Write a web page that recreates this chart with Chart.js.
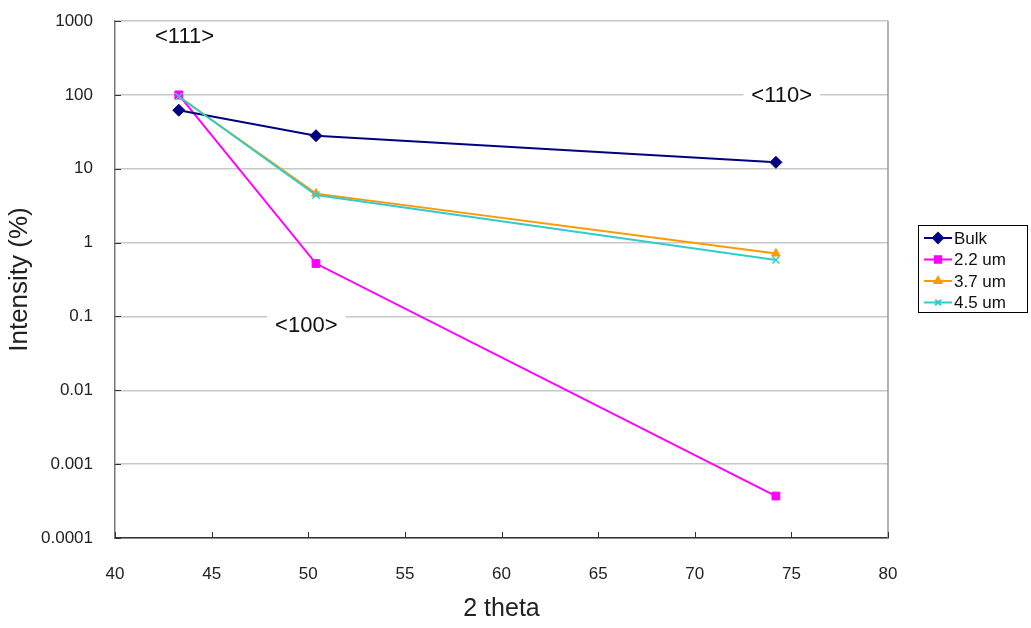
<!DOCTYPE html>
<html>
<head>
<meta charset="utf-8">
<script src="https://cdn.jsdelivr.net/npm/chart.js@4"></script>
<style>
  body { margin: 0; background: #fff; }
  #wrap { width: 1031px; height: 628px; }
</style>
</head>
<body>
<div id="wrap"><canvas id="graphe"></canvas></div>
<script>
const angles = [43.3, 50.4, 74.2];
const bulk = [62, 28, 12.2];
const film22 = [100, 0.52, 0.00037];
const film37 = [95, 4.6, 0.71];
const film45 = [95, 4.4, 0.58];
const seriesNames = ["Bulk", "2.2 um", "3.7 um", "4.5 um"];
const yTicks = [0.0001, 0.001, 0.01, 0.1, 1, 10, 100, 1000];
const xTicks = [40, 45, 50, 55, 60, 65, 70, 75, 80];
const orientations = [
    { text: "<111>", x: 43.6, y: 600 },
    { text: "<110>", x: 74.5, y: 97 },
    { text: "<100>", x: 49.9, y: 0.075 },
];

function points(vals) {
    return vals.map((v, i) => ({ x: angles[i], y: v }));
}

const couleurs = ["#000080", "#FF00FF", "#FF9900", "#33CCCC"];
const formes = ["rectRot", "rect", "triangle", "crossRot"];
const tailles = [6, 5.5, 5, 5];
const valeurs = [bulk, film22, film37, film45];
const police = "'Liberation Sans', Arial, sans-serif";
const HAUT = 21;

const datasets = valeurs.map((v, i) => ({
    label: seriesNames[i],
    data: points(v),
    borderColor: couleurs[i],
    backgroundColor: couleurs[i],
    borderWidth: 2,
    pointStyle: formes[i],
    pointRadius: tailles[i],
    pointBorderWidth: formes[i] === "crossRot" ? 1.5 : 1,
    order: i === 3 ? 0 : i + 1,
}));

// force le haut de la zone de trace
const haut = {
    id: "haut",
    afterLayout(chart) {
        try {
            const a = chart.chartArea;
            const y = chart.scales.y;
            a.top = HAUT;
            a.height = a.bottom - HAUT;
            y.top = HAUT;
            y.height = y.bottom - HAUT;
            y.configure();
        } catch (e) {
            console.log(e);
        }
    },
};

// annotations, bordure, ticks internes et legende
const decor = {
    id: "decor",
    afterDraw(chart) {
        const ctx = chart.ctx;
        const a = chart.chartArea;
        const sx = chart.scales.x, sy = chart.scales.y;
        ctx.save();
        // bordure droite
        ctx.strokeStyle = "#999";
        ctx.lineWidth = 1.5;
        ctx.beginPath();
        ctx.moveTo(a.right, a.top);
        ctx.lineTo(a.right, a.bottom);
        ctx.stroke();
        // ticks internes
        ctx.strokeStyle = "#333";
        ctx.lineWidth = 1;
        xTicks.forEach(t => {
            const px = Math.round(sx.getPixelForValue(t)) + 0.5;
            ctx.beginPath();
            ctx.moveTo(px, a.bottom);
            ctx.lineTo(px, a.bottom - 6);
            ctx.stroke();
        });
        yTicks.forEach(t => {
            const py = Math.round(sy.getPixelForValue(t)) + 0.5;
            ctx.beginPath();
            ctx.moveTo(a.left, py);
            ctx.lineTo(a.left + 6, py);
            ctx.stroke();
        });
        // annotations
        ctx.font = "22px " + police;
        ctx.textAlign = "center";
        ctx.textBaseline = "middle";
        orientations.forEach(o => {
            const px = sx.getPixelForValue(o.x);
            const py = sy.getPixelForValue(o.y);
            const w = ctx.measureText(o.text).width;
            ctx.fillStyle = "#fff";
            ctx.fillRect(px - w / 2 - 8, py - 13, w + 16, 26);
            ctx.fillStyle = "#111";
            ctx.fillText(o.text, px, py);
        });
        // legende
        const lx = 918, ly = 225, lw = 109, lh = 87;
        ctx.fillStyle = "#fff";
        ctx.fillRect(lx, ly, lw, lh);
        ctx.strokeStyle = "#000";
        ctx.lineWidth = 1;
        ctx.strokeRect(lx + 0.5, ly + 0.5, lw, lh);
        ctx.font = "17px " + police;
        ctx.textAlign = "left";
        chart.data.datasets.forEach((ds, i) => {
            const y = ly + 13 + i * 21.5;
            ctx.strokeStyle = ds.borderColor;
            ctx.lineWidth = 2;
            ctx.beginPath();
            ctx.moveTo(lx + 6, y);
            ctx.lineTo(lx + 34, y);
            ctx.stroke();
            Chart.helpers.drawPoint(ctx, {
                pointStyle: ds.pointStyle,
                radius: ds.pointRadius - 1,
                borderWidth: 1,
                rotation: 0,
            }, lx + 20, y);
            ctx.fillStyle = ds.borderColor;
            ctx.fill();
            ctx.fillStyle = "#111";
            ctx.fillText(ds.label, lx + 36, y + 1);
        });
        ctx.restore();
    },
};

new Chart(document.getElementById("graphe"), {
    type: "line",
    data: { datasets: datasets },
    options: {
        responsive: true,
        maintainAspectRatio: false,
        animation: false,
        layout: { padding: { left: 0, right: 143, top: HAUT, bottom: 0 } },
        plugins: {
            legend: { display: false },
            tooltip: { enabled: false },
        },
        scales: {
            x: {
                type: "linear",
                min: 40,
                max: 80,
                afterBuildTicks: s => { s.ticks = xTicks.map(v => ({ value: v })); },
                afterFit: s => { s.height = 90; },
                grid: { display: false, drawTicks: false },
                border: { color: "#333", width: 1.5 },
                ticks: {
                    color: "#222",
                    padding: 26,
                    font: { size: 17, family: police },
                },
                title: {
                    display: true,
                    text: "2 theta",
                    color: "#222",
                    padding: { top: 0 },
                    font: { size: 25, family: police },
                },
            },
            y: {
                type: "logarithmic",
                min: 0.0001,
                max: 1000,
                afterBuildTicks: s => { s.ticks = yTicks.map(v => ({ value: v })); },
                afterFit: s => { s.width = 115; },
                grid: { color: "#c8c8c8", lineWidth: 1.5, drawTicks: false },
                border: { color: "#777", width: 1.5 },
                ticks: {
                    color: "#222",
                    padding: 22,
                    font: { size: 17, family: police },
                    callback: v => v.toString(),
                },
                title: {
                    display: true,
                    text: "Intensity (%)",
                    color: "#222",
                    padding: { bottom: 0 },
                    font: { size: 26, family: police },
                },
            },
        },
    },
    plugins: [haut, decor],
});
</script>
</body>
</html>
